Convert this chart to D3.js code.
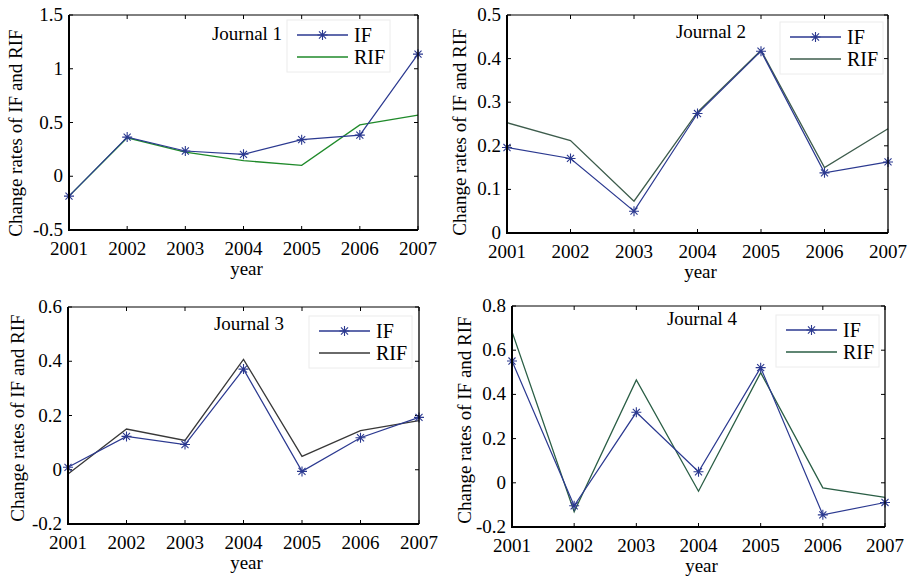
<!DOCTYPE html>
<html>
<head>
<meta charset="utf-8">
<script src="https://cdn.jsdelivr.net/npm/d3@7"></script>
<style>
  body { margin: 0; background: #fff; }
</style>
</head>
<body>
<div id="chart"></div>
<script>
// --- data ---
const years = [2001, 2002, 2003, 2004, 2005, 2006, 2007];

const if1  = [-0.185, 0.364, 0.235, 0.204, 0.340, 0.383, 1.136];
const rif1 = [-0.185, 0.358, 0.225, 0.145, 0.102, 0.478, 0.568];

const if2  = [0.196, 0.171, 0.050, 0.274, 0.417, 0.138, 0.163];
const rif2 = [0.253, 0.212, 0.073, 0.277, 0.419, 0.150, 0.239];

const if3  = [0.009, 0.123, 0.093, 0.371, -0.006, 0.118, 0.193];
const rif3 = [-0.016, 0.150, 0.108, 0.407, 0.049, 0.144, 0.181];

const if4  = [0.551, -0.104, 0.319, 0.050, 0.521, -0.145, -0.089];
const rif4 = [0.684, -0.131, 0.465, -0.038, 0.498, -0.023, -0.066];

const yTicks1 = [-0.5, 0, 0.5, 1, 1.5];
const yTicks2 = [0, 0.1, 0.2, 0.3, 0.4, 0.5];
const yTicks3 = [-0.2, 0, 0.2, 0.4, 0.6];
const yTicks4 = [-0.2, 0, 0.2, 0.4, 0.6, 0.8];

const titles = ['Journal 1', 'Journal 2', 'Journal 3', 'Journal 4'];
const seriesNames = ['IF', 'RIF'];

// --- layout ---
const W = 916, H = 579;
const ifColor = '#2b3990';
const fs = 19;
const serif = '"Liberation Serif", "Times New Roman", Times, serif';

const panels = [
    { box: [69, 15, 418, 230], ifv: if1, rif: rif1, ticks: yTicks1, rifColor: '#1f8a2a',
      title: [247, 40], legend: [287, 20], ylab: [22, 133] },
    { box: [507, 15, 888, 233], ifv: if2, rif: rif2, ticks: yTicks2, rifColor: '#3d5c4c',
      title: [711, 38], legend: [780, 22], ylab: [466, 132] },
    { box: [68, 307, 419, 524], ifv: if3, rif: rif3, ticks: yTicks3, rifColor: '#383838',
      title: [249, 330], legend: [309, 316], ylab: [24, 418] },
    { box: [512, 306, 885, 527], ifv: if4, rif: rif4, ticks: yTicks4, rifColor: '#2a5e45',
      title: [702, 325], legend: [776, 315], ylab: [471, 420] }
];

const svg = d3.select('#chart').append('svg')
    .attr('width', W)
    .attr('height', H)
    .attr('font-family', serif);

function starPath(r) {
    const d = r * Math.SQRT1_2;
    return `M${-r},0L${r},0M0,${-r}L0,${r}M${-d},${-d}L${d},${d}M${-d},${d}L${d},${-d}`;
}

panels.forEach((p, i) => {
    const [x0, y0, x1, y1] = p.box;
    const x = d3.scaleLinear().domain([years[0], years[years.length - 1]]).range([x0, x1]);
    const y = d3.scaleLinear().domain(d3.extent(p.ticks)).range([y1, y0]);

    const g = svg.append('g').attr('class', 'panel');

    // ticks inside, on all four sides
    const tl = 4;
    years.forEach(yr => {
        g.append('line').attr('x1', x(yr)).attr('x2', x(yr)).attr('y1', y1).attr('y2', y1 - tl)
            .attr('stroke', '#000').attr('stroke-width', 1);
        g.append('line').attr('x1', x(yr)).attr('x2', x(yr)).attr('y1', y0).attr('y2', y0 + tl)
            .attr('stroke', '#000').attr('stroke-width', 1);
    });
    p.ticks.forEach(t => {
        g.append('line').attr('x1', x0).attr('x2', x0 + tl).attr('y1', y(t)).attr('y2', y(t))
            .attr('stroke', '#000').attr('stroke-width', 1);
        g.append('line').attr('x1', x1).attr('x2', x1 - tl).attr('y1', y(t)).attr('y2', y(t))
            .attr('stroke', '#000').attr('stroke-width', 1);
    });

    // tick labels
    g.selectAll('text.xt').data(years).enter().append('text')
        .attr('class', 'xt')
        .attr('x', d => x(d))
        .attr('y', y1 + 25)
        .attr('text-anchor', 'middle')
        .attr('font-family', serif)
        .attr('font-size', fs + 'px')
        .text(d => d);

    g.selectAll('text.yt').data(p.ticks).enter().append('text')
        .attr('class', 'yt')
        .attr('x', x0 - 6)
        .attr('y', d => y(d) + 6)
        .attr('text-anchor', 'end')
        .attr('font-family', serif)
        .attr('font-size', fs + 'px')
        .text(d => String(d));

    // axis labels
    g.append('text')
        .attr('transform', `translate(${p.ylab[0]},${p.ylab[1]}) rotate(-90)`)
        .attr('text-anchor', 'middle')
        .attr('font-family', serif)
        .attr('font-size', fs + 'px')
        .text('Change rates of IF and RIF');

    g.append('text')
        .attr('x', (x0 + x1) / 2 + 3)
        .attr('y', y1 + 45)
        .attr('text-anchor', 'middle')
        .attr('font-family', serif)
        .attr('font-size', fs + 'px')
        .text('year');

    // series
    const line = d3.line().x((d, j) => x(years[j])).y(d => y(d));

    g.append('path').datum(p.rif)
        .attr('d', line)
        .attr('fill', 'none')
        .attr('stroke', p.rifColor)
        .attr('stroke-width', 1.3);

    g.append('path').datum(p.ifv)
        .attr('d', line)
        .attr('fill', 'none')
        .attr('stroke', ifColor)
        .attr('stroke-width', 1.2);

    g.selectAll('path.star').data(p.ifv).enter().append('path')
        .attr('class', 'star')
        .attr('transform', (d, j) => `translate(${x(years[j])},${y(d)})`)
        .attr('d', starPath(5))
        .attr('stroke', ifColor)
        .attr('stroke-width', 1.1)
        .attr('fill', 'none');

    // frame: left/bottom heavier
    g.append('line').attr('x1', x0).attr('x2', x1).attr('y1', y0).attr('y2', y0)
        .attr('stroke', '#000').attr('stroke-width', 1);
    g.append('line').attr('x1', x1).attr('x2', x1).attr('y1', y0).attr('y2', y1)
        .attr('stroke', '#000').attr('stroke-width', 1.3);
    g.append('line').attr('x1', x0).attr('x2', x0).attr('y1', y0).attr('y2', y1 + 1)
        .attr('stroke', '#000').attr('stroke-width', 2);
    g.append('line').attr('x1', x0 - 1).attr('x2', x1).attr('y1', y1).attr('y2', y1)
        .attr('stroke', '#000').attr('stroke-width', 2);

    // title text
    g.append('text')
        .attr('x', p.title[0])
        .attr('y', p.title[1])
        .attr('text-anchor', 'middle')
        .attr('font-family', serif)
        .attr('font-size', fs + 'px')
        .text(titles[i]);

    // legend
    const [lx, ly] = p.legend;
    const lg = g.append('g').attr('transform', `translate(${lx},${ly})`);
    lg.append('rect')
        .attr('width', 103).attr('height', 52)
        .attr('fill', '#fff')
        .attr('stroke', '#ececec')
        .attr('stroke-width', 1);
    seriesNames.forEach((name, k) => {
        const ry = 15 + k * 22;
        const col = k === 0 ? ifColor : p.rifColor;
        lg.append('line')
            .attr('x1', 10).attr('x2', 61).attr('y1', ry).attr('y2', ry)
            .attr('stroke', col).attr('stroke-width', 1.3);
        if (k === 0) {
            lg.append('path')
                .attr('transform', `translate(35.5,${ry})`)
                .attr('d', starPath(5))
                .attr('stroke', col)
                .attr('stroke-width', 1.1)
                .attr('fill', 'none');
        }
        lg.append('text')
            .attr('x', 67)
            .attr('y', ry + 7)
            .attr('font-family', serif)
            .attr('font-size', '20px')
            .text(name);
    });
});
</script>
</body>
</html>
